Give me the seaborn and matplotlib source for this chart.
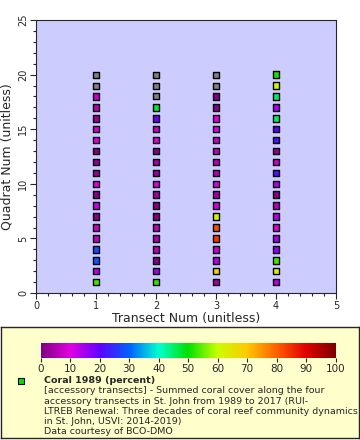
import numpy as np
import pandas as pd
import matplotlib
matplotlib.use("Agg")
import matplotlib.pyplot as plt
import seaborn as sns
from matplotlib.colors import LinearSegmentedColormap, Normalize
from matplotlib.ticker import MultipleLocator
import matplotlib as mpl

# quadrat 1..20 (bottom to top) for each transect
quadrats = list(range(1, 21))
transect1 = [53, 13, 29, 28, 7, 8, 1, 12, 1, 10, 3, 2, 1, 10, 9, 3, 6, 8, np.nan, np.nan]
transect2 = [52, 15, 1, 6, 5, 7, 1, 1, 4, 10, 3, 4, 1, 10, 8, 19, 48, np.nan, np.nan, np.nan]
transect3 = [4, 68, 13, 8, 84, 82, 62, 11, 4, 10, 6, 6, 7, 8, 10, 10, 1, 1, np.nan, np.nan]
transect4 = [13, 62, 53, 16, 15, 10, 13, 6, 1, 14, 22, 8, 2, 22, 20, 45, 14, 45, 62, 51]

cbar_ticks = list(range(0, 101, 10))

rows = []
for t, vals in enumerate([transect1, transect2, transect3, transect4], start=1):
    for q, v in zip(quadrats, vals):
        rows.append({"transect": t, "quadrat": q, "coral": v})
df = pd.DataFrame(rows)

# rainbow-ish palette like the original
cmap = LinearSegmentedColormap.from_list("rainbow2", [
    (0.0, "#800080"), (0.1, "#e000e0"), (0.2, "#6000ff"), (0.3, "#0060ff"),
    (0.4, "#00ffd0"), (0.5, "#00e000"), (0.6, "#c8ff00"), (0.7, "#ffc800"),
    (0.8, "#ff6000"), (0.9, "#e00000"), (1.0, "#800000")])
norm = Normalize(0, 100)

sns.set_style("ticks")
plt.rcParams["font.family"] = ["DejaVu Sans"]

fig = plt.figure(figsize=(3.6, 4.4), dpi=100)

# legend panel first so the main axes (and its labels) sit on top
lax = fig.add_axes([0.003, 0.005, 0.994, 0.252])
lax.set_facecolor("#ffffcc")
lax.set_xticks([])
lax.set_yticks([])
lax.set_xlim(0, 360)
lax.set_ylim(111, 0)
for s in lax.spines.values():
    s.set_linewidth(1)

ax = fig.add_axes([0.1, 0.334, 0.833, 0.6205])
ax.set_facecolor("#ccccff")

ok = df.dropna()
miss = df[df["coral"].isna()]
sns.scatterplot(data=ok, x="transect", y="quadrat", hue="coral", palette=cmap, hue_norm=norm,
                marker="s", s=22, edgecolor="black", linewidth=1, legend=False, ax=ax, zorder=3)
sns.scatterplot(data=miss, x="transect", y="quadrat", color="#808080",
                marker="s", s=22, edgecolor="black", linewidth=1, legend=False, ax=ax, zorder=3)

ax.set_xlim(0, 5)
ax.set_ylim(0, 25)
ax.xaxis.set_major_locator(MultipleLocator(1))
ax.xaxis.set_minor_locator(MultipleLocator(0.2))
ax.yaxis.set_major_locator(MultipleLocator(5))
ax.yaxis.set_minor_locator(MultipleLocator(1))
ax.tick_params(which="major", length=4, labelsize=7, width=0.8, pad=1.5)
ax.tick_params(which="minor", length=2, width=0.8)
for lbl in ax.get_yticklabels():
    lbl.set_rotation(90)
    lbl.set_va("center")
ax.set_xlabel("Transect Num (unitless)", fontsize=9)
ax.set_ylabel("Quadrat Num (unitless)", fontsize=9)
ax.xaxis.set_label_coords(0.5, -0.07)
ax.yaxis.set_label_coords(-0.075, 0.5)
for s in ax.spines.values():
    s.set_linewidth(0.8)

cax = fig.add_axes([0.113, 0.186, 0.819, 0.0355])
cb = mpl.colorbar.ColorbarBase(cax, cmap=cmap, norm=norm, orientation="horizontal")
cb.set_ticks(cbar_ticks)
cb.outline.set_visible(False)
cax.tick_params(labelsize=7.5, length=3, width=0.8, pad=1)

lax.plot([20], [54], marker="s", markersize=4.5, markerfacecolor="#00e000",
         markeredgecolor="black", markeredgewidth=0.8, linestyle="none")
lax.text(43, 54, "Coral 1989 (percent)", fontsize=6.8, fontweight="bold", va="center")
lines = ["[accessory transects] - Summed coral cover along the four",
         "accessory transects in St. John from 1989 to 2017 (RUI-",
         "LTREB Renewal: Three decades of coral reef community dynamics",
         "in St. John, USVI: 2014-2019)",
         "Data courtesy of BCO-DMO"]
for i, t in enumerate(lines):
    lax.text(43, 64 + 10.2 * i, t, fontsize=6.8, va="center")

fig.savefig("out.png", dpi=100)
